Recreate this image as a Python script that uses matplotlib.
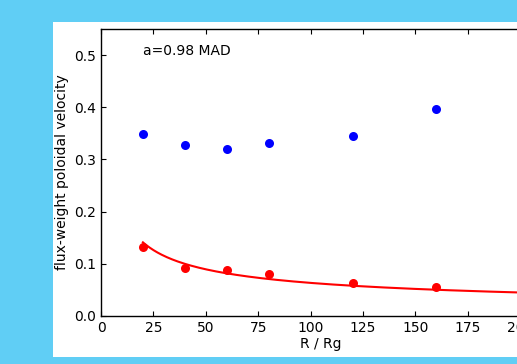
import numpy as np
import matplotlib
matplotlib.use("Agg")
import matplotlib.pyplot as plt
from matplotlib.patches import Rectangle

# Radii (in gravitational radii) where the velocities were measured
radius = [20, 40, 60, 80, 120, 160]
# Flux-weighted poloidal velocity, two components
vel_blue = [0.349, 0.327, 0.321, 0.331, 0.346, 0.396]
vel_red = [0.132, 0.092, 0.088, 0.080, 0.063, 0.056]

# Power-law model v = amp * R**(-slope)
model_amp = 0.63
model_slope = 0.5
model_rmin, model_rmax = 20, 210

yticks = [0.0, 0.1, 0.2, 0.3, 0.4, 0.5]
xticks = [0, 25, 50, 75, 100, 125, 150, 175, 200]

plt.rcParams.update({
    "font.family": "DejaVu Sans",
    "font.size": 10,
    "xtick.direction": "in",
    "ytick.direction": "in",
    "xtick.top": True,
    "ytick.right": True,
    "xtick.major.size": 3.5,
    "ytick.major.size": 3.5,
    "axes.linewidth": 1.0,
})

W, H = 517, 364
fig = plt.figure(figsize=(W / 100, H / 100), dpi=100, facecolor="#60CEF5")

# white panel behind the plot
panel = Rectangle((53 / W, (H - 357) / H), (W - 53) / W, 335 / H,
                  transform=fig.transFigure, facecolor="white",
                  edgecolor="none", zorder=-10)
fig.patches.append(panel)

ax_left = 101 / W
ax_bottom = (H - 315.7) / H
ax_height = (315.7 - 29.3) / H
ax_width = 210 * 2.096 / W
ax = fig.add_axes([ax_left, ax_bottom, ax_width, ax_height])
ax.set_zorder(1)
ax.set_facecolor("white")

r_model = np.linspace(model_rmin, model_rmax, 300)
ax.plot(r_model, model_amp * r_model ** (-model_slope), color="red", lw=1.5, zorder=3)

ax.plot(radius, vel_blue, "o", color="blue", markersize=6.5, markeredgewidth=0, zorder=2)
ax.plot(radius, vel_red, "o", color="red", markersize=6.5, markeredgewidth=0, zorder=2)

ax.text(20, 0.5, "a=0.98 MAD", fontsize=10)

ax.set_xlim(0, 210)
ax.set_ylim(0, 0.55)
ax.set_xticks(xticks)
ax.set_yticks(yticks)
ax.set_xlabel("R / Rg", labelpad=2)
ax.set_ylabel("flux-weight poloidal velocity")

fig.savefig("out.png", dpi=100, facecolor=fig.get_facecolor())
